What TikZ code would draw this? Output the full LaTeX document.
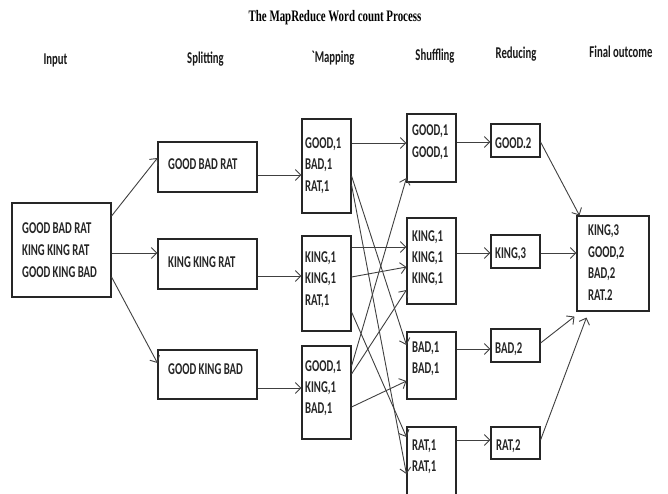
\documentclass[tikz,border=0pt]{standalone}
\usepackage{fontspec}
\usetikzlibrary{arrows.meta,fit,calc}
\newfontfamily\calfont[FakeStretch=0.65]{Carlito}
\newfontfamily\titlefont[FakeStretch=0.68]{Liberation Serif}
\tikzset{
  box/.style={draw=black!85, line width=1.1pt, inner sep=0pt},
  lbl/.style={font=\calfont\bfseries\fontsize{16.5}{18}\selectfont, inner sep=0pt, anchor=base west, text=black!85},
  hdr/.style={font=\calfont\bfseries\fontsize{16.5}{18}\selectfont, inner sep=0pt, anchor=base, text=black!90},
  ttl/.style={font=\titlefont\bfseries\fontsize{16}{18}\selectfont, inner sep=0pt, anchor=base},
  arr/.style={draw=black!75, line width=0.9pt, -{Straight Barb[length=5.5pt,width=11pt,line width=0.9pt]}}
}
\begin{document}
\begin{tikzpicture}[x=1pt,y=-1pt]
\useasboundingbox (0,0) rectangle (668,493);
\clip (0,0) rectangle (668,493);
\fill[white] (0,0) rectangle (668,493);
% title and headers
\node[ttl] (title) at (335,21) {The MapReduce Word count Process};
\node[hdr] (hInput) at (55.5,64) {Input};
\node[hdr] (hSplit) at (205.5,63) {Splitting};
\node[hdr] (hMap) at (333,62) {`Mapping};
\node[hdr] (hShuf) at (435,60) {Shuffling};
\node[hdr] (hRed) at (516,58) {Reducing};
\node[hdr] (hFinal) at (621,57) {Final outcome};
% boxes
\node[box, fit={(12,203)(111,297)}] (input) {};
\node[box, fit={(158,142)(257,192)}] (split1) {};
\node[box, fit={(158,239)(257,289)}] (split2) {};
\node[box, fit={(158,350)(257,399)}] (split3) {};
\node[box, fit={(302,119)(351,213)}] (map1) {};
\node[box, fit={(302,236)(351,331)}] (map2) {};
\node[box, fit={(302,346)(351,439)}] (map3) {};
\node[box, fit={(407,114)(456,182)}] (shuf1) {};
\node[box, fit={(407,218)(456,304)}] (shuf2) {};
\node[box, fit={(407,332)(456,399)}] (shuf3) {};
\node[box, fit={(407,427)(456,505)}] (shuf4) {};
\node[box, fit={(491,124)(540,157)}] (red1) {};
\node[box, fit={(491,235)(540,268)}] (red2) {};
\node[box, fit={(491,329)(540,362)}] (red3) {};
\node[box, fit={(491,427)(540,459)}] (red4) {};
\node[box, fit={(577,216)(649,311)}] (final) {};
% texts
\node[lbl] (tIn1) at (22,233) {GOOD BAD RAT};
\node[lbl] (tIn2) at (22,255) {KING KING RAT};
\node[lbl] (tIn3) at (22,277) {GOOD KING BAD};
\node[lbl] (tS1) at (168,169) {GOOD BAD RAT};
\node[lbl] (tS2) at (168,267) {KING KING RAT};
\node[lbl] (tS3) at (168,374) {GOOD KING BAD};
\node[lbl] (tM11) at (305,148) {GOOD,1};
\node[lbl] (tM12) at (305,169.5) {BAD,1};
\node[lbl] (tM13) at (305,191) {RAT,1};
\node[lbl] (tM21) at (305,262) {KING,1};
\node[lbl] (tM22) at (305,283) {KING,1};
\node[lbl] (tM23) at (305,305) {RAT,1};
\node[lbl] (tM31) at (305,371) {GOOD,1};
\node[lbl] (tM32) at (305,392) {KING,1};
\node[lbl] (tM33) at (305,413) {BAD,1};
\node[lbl] (tH11) at (412,135) {GOOD,1};
\node[lbl] (tH12) at (412,157) {GOOD,1};
\node[lbl] (tH21) at (412,241) {KING,1};
\node[lbl] (tH22) at (412,262) {KING,1};
\node[lbl] (tH23) at (412,283) {KING,1};
\node[lbl] (tH31) at (412,352) {BAD,1};
\node[lbl] (tH32) at (412,373) {BAD,1};
\node[lbl] (tH41) at (412,450) {RAT,1};
\node[lbl] (tH42) at (412,471) {RAT,1};
\node[lbl] (tR1) at (495,148) {GOOD.2};
\node[lbl] (tR2) at (495,258) {KING,3};
\node[lbl] (tR3) at (495,353) {BAD,2};
\node[lbl] (tR4) at (496,450) {RAT,2};
\node[lbl] (tF1) at (588,235) {KING,3};
\node[lbl] (tF2) at (588,257) {GOOD,2};
\node[lbl] (tF3) at (588,278) {BAD,2};
\node[lbl] (tF4) at (588,300) {RAT.2};
% input -> splitting
\draw[arr] (input.east |- 0,216) -- (split1.west |- 0,158);
\draw[arr] (input.east |- 0,253) -- (split2.west |- 0,253);
\draw[arr] (input.east |- 0,277) -- (split3.west |- 0,363);
% splitting -> mapping
\draw[arr] (split1.east |- 0,175) -- (map1.west |- 0,175);
\draw[arr] (split2.east |- 0,276) -- (map2.west |- 0,276);
\draw[arr] (split3.east |- 0,388) -- (map3.west |- 0,388);
% mapping -> shuffling
\draw[arr] (map1.east |- 0,143) -- (shuf1.west |- 0,143);
\draw[arr] (map1.east |- 0,176) -- (shuf3.west |- 0,345);
\draw[arr] (map1.east |- 0,185) -- (shuf4.west |- 0,474);
\draw[arr] (map2.east |- 0,247) -- (shuf2.west |- 0,247);
\draw[arr] (map2.east |- 0,277) -- (shuf2.west |- 0,267);
\draw[arr] (map2.east |- 0,312) -- (shuf4.west |- 0,437);
\draw[arr] (map3.east |- 0,366) -- (shuf1.west |- 0,178);
\draw[arr] (map3.east |- 0,374) -- (shuf2.west |- 0,290);
\draw[arr] (map3.east |- 0,407) -- (shuf3.west |- 0,381);
% shuffling -> reducing
\draw[arr] (shuf1.east |- 0,142) -- (red1.west |- 0,142);
\draw[arr] (shuf2.east |- 0,253) -- (red2.west |- 0,253);
\draw[arr] (shuf3.east |- 0,349) -- (red3.west |- 0,349);
\draw[arr] (shuf4.east |- 0,440) -- (red4.west |- 0,440);
% reducing -> final
\draw[arr] (red1.east |- 0,142) -- ($(final.north west)+(3,0)$);
\draw[arr] (red2.east |- 0,253) -- (final.west |- 0,253);
\draw[arr] (red3.east |- 0,343) -- ($(final.south west)+(-2,5)$);
\draw[arr] (red4.east |- 0,440) -- ($(final.south west)+(10,6)$);
\end{tikzpicture}
\end{document}
